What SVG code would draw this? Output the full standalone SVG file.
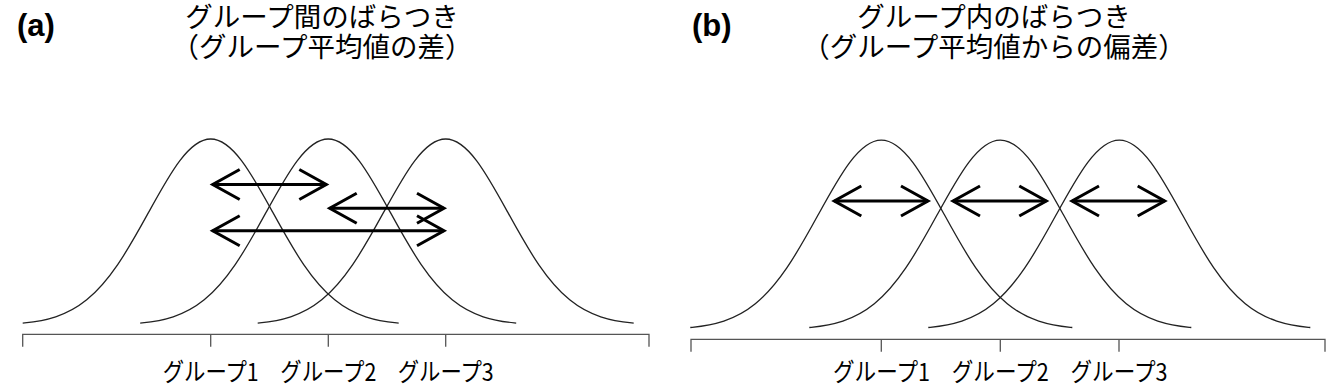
<svg xmlns="http://www.w3.org/2000/svg" xmlns:xlink="http://www.w3.org/1999/xlink" width="1344" height="384" viewBox="0 0 1344 384">
  <style>
    .panel { font-family: "Liberation Sans", Arial, sans-serif; font-weight: bold; font-size: 31px; fill: #000; }
    .title { font-family: "Noto Sans CJK JP", sans-serif; font-size: 27.5px; fill: #000; text-anchor: middle; }
    .lbl { font-family: "Noto Sans CJK JP", sans-serif; font-size: 24.5px; fill: #000; text-anchor: middle; }
    .curve { fill: none; stroke: #222; stroke-width: 1.3; }
    .axis { fill: none; stroke: #555; stroke-width: 1.3; }
    .arrow { fill: none; stroke: #000; stroke-width: 3; marker-start: url(#chev); marker-end: url(#chev); }
  </style>
  <defs>
    <marker id="chev" markerUnits="userSpaceOnUse" orient="auto-start-reverse" refX="0" refY="0" markerWidth="60" markerHeight="60" viewBox="-40 -30 60 60" overflow="visible">
      <path d="M -27 -15 L 0 0 L -27 15" fill="none" stroke="#000" stroke-width="3" stroke-linejoin="miter"/>
    </marker>
    <path id="gauss" class="curve" d="M -188 -1.89 L -186 -2.07 C -175.67 -3.10 -165.33 -4.77 -155 -8.17 C -144.67 -11.58 -134.33 -16.78 -124 -25.17 C -113.67 -33.56 -103.33 -45.29 -93 -60.39 C -82.67 -75.48 -72.33 -94.01 -62 -112.82 C -51.67 -131.62 -41.33 -150.47 -31 -164.15 C -20.67 -177.82 -10.33 -186 0 -186 C 10.33 -186 20.67 -177.82 31 -164.15 C 41.33 -150.47 51.67 -131.62 62 -112.82 C 72.33 -94.01 82.67 -75.48 93 -60.39 C 103.33 -45.29 113.67 -33.56 124 -25.17 C 134.33 -16.78 144.67 -11.58 155 -8.17 C 165.33 -4.77 175.67 -3.10 186 -2.07 L 188 -1.89"/>
  </defs>

  <g id="panel-a">
    <text class="panel" x="17" y="35.5">(a)</text>
    <g id="title-a">
      <text class="title" x="322" y="27">グループ間のばらつき</text>
      <text class="title" x="322" y="57">（グループ平均値の差）</text>
    </g>
    <g id="curves-a">
      <use id="curve-a1" xlink:href="#gauss" href="#gauss" transform="translate(210.7,325)"/>
      <use id="curve-a2" xlink:href="#gauss" href="#gauss" transform="translate(328.2,325)"/>
      <use id="curve-a3" xlink:href="#gauss" href="#gauss" transform="translate(445.7,325)"/>
    </g>
    <g id="axis-a">
      <path class="axis" d="M 22.7 346.7 V 334.3 H 649 V 346.7 M 210.7 334.3 V 346.7 M 328.3 334.3 V 346.7 M 445.7 334.3 V 346.7"/>
    </g>
    <g id="labels-a">
      <text class="lbl" x="210.7" y="380.5" textLength="96" lengthAdjust="spacingAndGlyphs">グループ1</text>
      <text class="lbl" x="328.3" y="380.5" textLength="96" lengthAdjust="spacingAndGlyphs">グループ2</text>
      <text class="lbl" x="445.7" y="380.5" textLength="96" lengthAdjust="spacingAndGlyphs">グループ3</text>
    </g>
  </g>

  <g id="panel-b">
    <text class="panel" x="692" y="35.5">(b)</text>
    <g id="title-b">
      <text class="title" x="994" y="27">グループ内のばらつき</text>
      <text class="title" x="994" y="57">（グループ平均値からの偏差）</text>
    </g>
    <g id="curves-b">
      <use id="curve-b1" xlink:href="#gauss" href="#gauss" transform="translate(881.3,329.4) scale(1.016,1.018)"/>
      <use id="curve-b2" xlink:href="#gauss" href="#gauss" transform="translate(1000.3,329.4) scale(1.016,1.018)"/>
      <use id="curve-b3" xlink:href="#gauss" href="#gauss" transform="translate(1119.3,329.4) scale(1.016,1.018)"/>
    </g>
    <g id="axis-b">
      <path class="axis" d="M 691 351.7 V 339.3 H 1325 V 351.7 M 881.3 339.3 V 351.7 M 1000.3 339.3 V 351.7 M 1119 339.3 V 351.7"/>
    </g>
    <g id="labels-b">
      <text class="lbl" x="881.5" y="380.5" textLength="97" lengthAdjust="spacingAndGlyphs">グループ1</text>
      <text class="lbl" x="1000.3" y="380.5" textLength="97" lengthAdjust="spacingAndGlyphs">グループ2</text>
      <text class="lbl" x="1119" y="380.5" textLength="97" lengthAdjust="spacingAndGlyphs">グループ3</text>
    </g>
  </g>

  <g id="connectors">
    <path class="arrow" d="M 212.7 184.5 H 326.3"/>
    <path class="arrow" d="M 329.7 208.3 H 444"/>
    <path class="arrow" d="M 212.7 230.7 H 444"/>
    <path class="arrow" d="M 834.3 201 H 928"/>
    <path class="arrow" d="M 953 201 H 1046.3"/>
    <path class="arrow" d="M 1072 201 H 1164.7"/>
  </g>
</svg>
